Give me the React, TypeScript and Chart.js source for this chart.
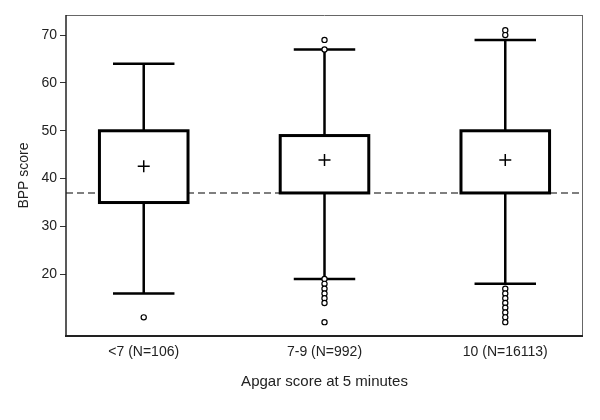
import React, { useEffect, useRef } from "react";
import { Chart, registerables } from "chart.js";

Chart.register(...registerables);

const categories = ["<7 (N=106)", "7-9 (N=992)", "10 (N=16113)"];
const positions = [1, 2, 3];
const whiskerLow = [16, 19, 18];
const q1 = [35, 37, 37];
const q3 = [50, 49, 50];
const whiskerHigh = [64, 67, 69];
const means = [42.6, 43.9, 43.9];
const outliers: number[][] = [
  [11],
  [69, 67, 19, 18, 17, 16, 15, 14, 10],
  [71, 70, 17, 16, 15, 14, 13, 12, 11, 10],
];
const referenceLine = 37;
const yTicks = [20, 30, 40, 50, 60, 70];

const FONT = "'Liberation Sans', Arial, sans-serif";

const boxPlugin = {
  id: "boxPlot",
  beforeDatasetsDraw(chart: any) {
    const { ctx, chartArea, scales } = chart;
    const xs = scales.x;
    const ys = scales.y;
    ctx.save();
    // reference line
    const yr = ys.getPixelForValue(referenceLine);
    ctx.strokeStyle = "#555";
    ctx.lineWidth = 1.5;
    ctx.setLineDash([7, 4]);
    ctx.beginPath();
    ctx.moveTo(chartArea.left, yr);
    ctx.lineTo(chartArea.right, yr);
    ctx.stroke();
    ctx.setLineDash([]);

    const boxHalf = 0.245;
    const capHalf = 0.17;
    positions.forEach((p, i) => {
      const xc = xs.getPixelForValue(p);
      const xl = xs.getPixelForValue(p - boxHalf);
      const xr = xs.getPixelForValue(p + boxHalf);
      const cl = xs.getPixelForValue(p - capHalf);
      const cr = xs.getPixelForValue(p + capHalf);
      const yLo = ys.getPixelForValue(whiskerLow[i]);
      const yQ1 = ys.getPixelForValue(q1[i]);
      const yQ3 = ys.getPixelForValue(q3[i]);
      const yHi = ys.getPixelForValue(whiskerHigh[i]);
      ctx.strokeStyle = "#000";
      ctx.lineWidth = 2.5;
      ctx.beginPath();
      ctx.moveTo(xc, yHi);
      ctx.lineTo(xc, yQ3);
      ctx.moveTo(xc, yQ1);
      ctx.lineTo(xc, yLo);
      ctx.moveTo(cl, yHi);
      ctx.lineTo(cr, yHi);
      ctx.moveTo(cl, yLo);
      ctx.lineTo(cr, yLo);
      ctx.stroke();
      ctx.fillStyle = "#fff";
      ctx.fillRect(xl, yQ3, xr - xl, yQ1 - yQ3);
      ctx.lineWidth = 3;
      ctx.strokeRect(xl, yQ3, xr - xl, yQ1 - yQ3);
    });
    ctx.restore();
  },
  afterDraw(chart: any) {
    const { ctx, chartArea } = chart;
    const { left, right, top, bottom } = chartArea;
    ctx.save();
    ctx.strokeStyle = "#666";
    ctx.lineWidth = 1;
    ctx.beginPath();
    ctx.moveTo(left, top + 0.5);
    ctx.lineTo(right, top + 0.5);
    ctx.moveTo(right - 0.5, top);
    ctx.lineTo(right - 0.5, bottom);
    ctx.stroke();
    ctx.strokeStyle = "#222";
    ctx.lineWidth = 1.5;
    ctx.beginPath();
    ctx.moveTo(left, top);
    ctx.lineTo(left, bottom);
    ctx.stroke();
    ctx.lineWidth = 2;
    ctx.beginPath();
    ctx.moveTo(left - 1, bottom);
    ctx.lineTo(right, bottom);
    ctx.stroke();
    ctx.restore();
  },
};

export default function App() {
  const ref = useRef<HTMLCanvasElement | null>(null);
  useEffect(() => {
    if (!ref.current) return;
    const outlierPts: { x: number; y: number }[] = [];
    outliers.forEach((arr, i) => arr.forEach((v) => outlierPts.push({ x: positions[i], y: v })));
    const chart = new Chart(ref.current, {
      type: "scatter",
      data: {
        datasets: [
          {
            label: "Mean",
            data: means.map((m, i) => ({ x: positions[i], y: m })),
            pointStyle: "cross",
            pointRadius: 6,
            borderColor: "#000",
            borderWidth: 1.5,
            backgroundColor: "#000",
          },
          {
            label: "Outliers",
            data: outlierPts,
            pointStyle: "circle",
            pointRadius: 2.6,
            borderColor: "#000",
            borderWidth: 1.2,
            backgroundColor: "#fff",
          },
        ],
      },
      options: {
        responsive: false,
        animation: false,
        layout: { padding: { left: 0, top: 15, right: 17, bottom: 0 } },
        plugins: { legend: { display: false }, tooltip: { enabled: false } },
        scales: {
          x: {
            type: "linear",
            min: 0.57,
            max: 3.43,
            afterBuildTicks: (scale: any) => {
              scale.ticks = positions.map((v) => ({ value: v }));
            },
            afterFit: (scale: any) => {
              scale.height = 84;
            },
            grid: { display: false, drawTicks: false },
            border: { display: false },
            ticks: {
              padding: 8,
              color: "#222",
              font: { family: FONT, size: 14 },
              callback: (v: any) => {
                const idx = positions.indexOf(Number(v));
                return idx >= 0 ? categories[idx] : "";
              },
            },
            title: {
              display: true,
              text: "Apgar score at 5 minutes",
              color: "#222",
              font: { family: FONT, size: 15 },
              padding: { top: 0, bottom: 29 },
            },
          },
          y: {
            type: "linear",
            min: 7.1,
            max: 74.2,
            afterBuildTicks: (scale: any) => {
              scale.ticks = yTicks.map((v) => ({ value: v }));
            },
            afterFit: (scale: any) => {
              scale.width = 66;
            },
            grid: { drawOnChartArea: false, drawTicks: true, tickLength: 6, color: "#333", lineWidth: 1 },
            border: { display: false },
            ticks: {
              padding: 3,
              color: "#222",
              font: { family: FONT, size: 14 },
            },
            title: {
              display: true,
              text: "BPP score",
              color: "#222",
              font: { family: FONT, size: 14 },
              padding: { top: 16, bottom: 0 },
            },
          },
        },
      },
      plugins: [boxPlugin],
    } as any);
    return () => chart.destroy();
  }, []);
  return (
    <div style={{ position: "fixed", left: 0, top: 0, width: 600, height: 420, background: "#fff" }}>
      <canvas ref={ref} width={600} height={420} />
    </div>
  );
}
